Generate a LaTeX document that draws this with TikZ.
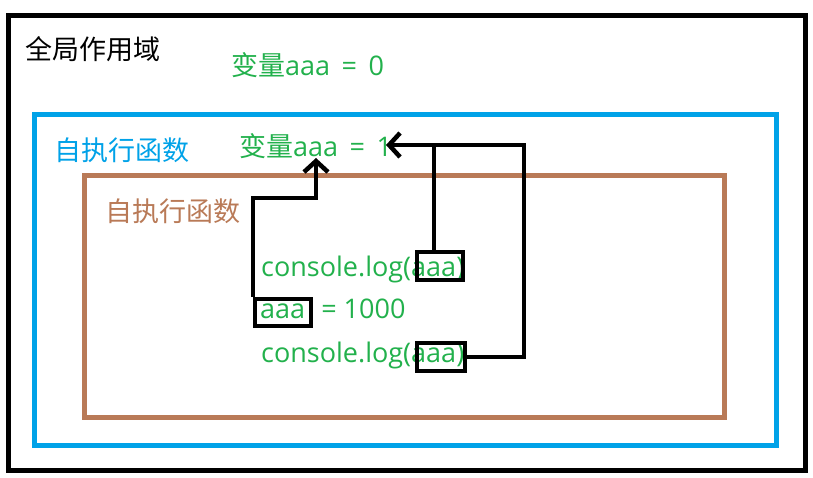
\documentclass[tikz,border=0pt]{standalone}
\usepackage{fontspec}
\setmainfont{Open Sans}
\newfontfamily\cjk{Noto Sans CJK SC}
\usetikzlibrary{arrows.meta}
\definecolor{pgreen}{HTML}{22B14C}
\definecolor{pblue}{HTML}{00A2E8}
\definecolor{pbrown}{HTML}{B97A57}
\begin{document}
\begin{tikzpicture}[x=1pt,y=-1pt,
  frame/.style={line width=5pt},
  txt/.style={inner sep=0pt,anchor=base west,font=\fontsize{27}{32}\selectfont},
  hl/.style={draw=black,line width=4.5pt,inner sep=0pt},
  conn/.style={draw=black,line width=4.5pt},
  arr/.style={conn,-{Straight Barb[length=11pt,width=24pt]}}]
\useasboundingbox (0,0) rectangle (813,478);
\fill[white] (0,0) rectangle (813,478);
% scopes
\draw[frame,black] (8,16) rectangle (805,470);
\draw[frame,pblue] (34,115) rectangle (776,445);
\draw[frame,pbrown] (84,176) rectangle (724,417);
% labels
\node[txt,black] (g) at (25,60) {\cjk 全局作用域};
\node[txt,pgreen] (v0) at (231,76) {{\cjk 变量}aaa\, = \,0};
\node[txt,pblue] (f1) at (54,161) {\cjk 自执行函数};
\node[txt,pgreen] (v1) at (239,157) {{\cjk 变量}aaa\, = \,1};
\node[txt,pbrown] (f2) at (105,222) {\cjk 自执行函数};
\node[txt,pgreen] (c1) at (261,276) {console.log(aaa)};
\node[txt,pgreen] (as) at (260,318) {aaa\,\, = 1000};
\node[txt,pgreen] (c2) at (261,362) {console.log(aaa)};
% highlight boxes
\node[hl,minimum width=46pt,minimum height=28pt] (b1) at (440,266) {};
\node[hl,minimum width=56pt,minimum height=27pt] (b2) at (283,312.5) {};
\node[hl,minimum width=48pt,minimum height=28pt] (b3) at (441,357) {};
% connectors
\coordinate (tA) at (316,158);
\coordinate (kA) at (316,198);
\coordinate (tB) at (386,145);
\coordinate (kC) at (524,145);
\draw[arr] (b2.north west) |- (kA) -- (tA);
\draw[arr] ([xshift=-6pt]b1.north) |- (tB);
\draw[conn] (b3.east) -| (kC) -- ([xshift=-6pt]b1.north |- kC);
\end{tikzpicture}
\end{document}
